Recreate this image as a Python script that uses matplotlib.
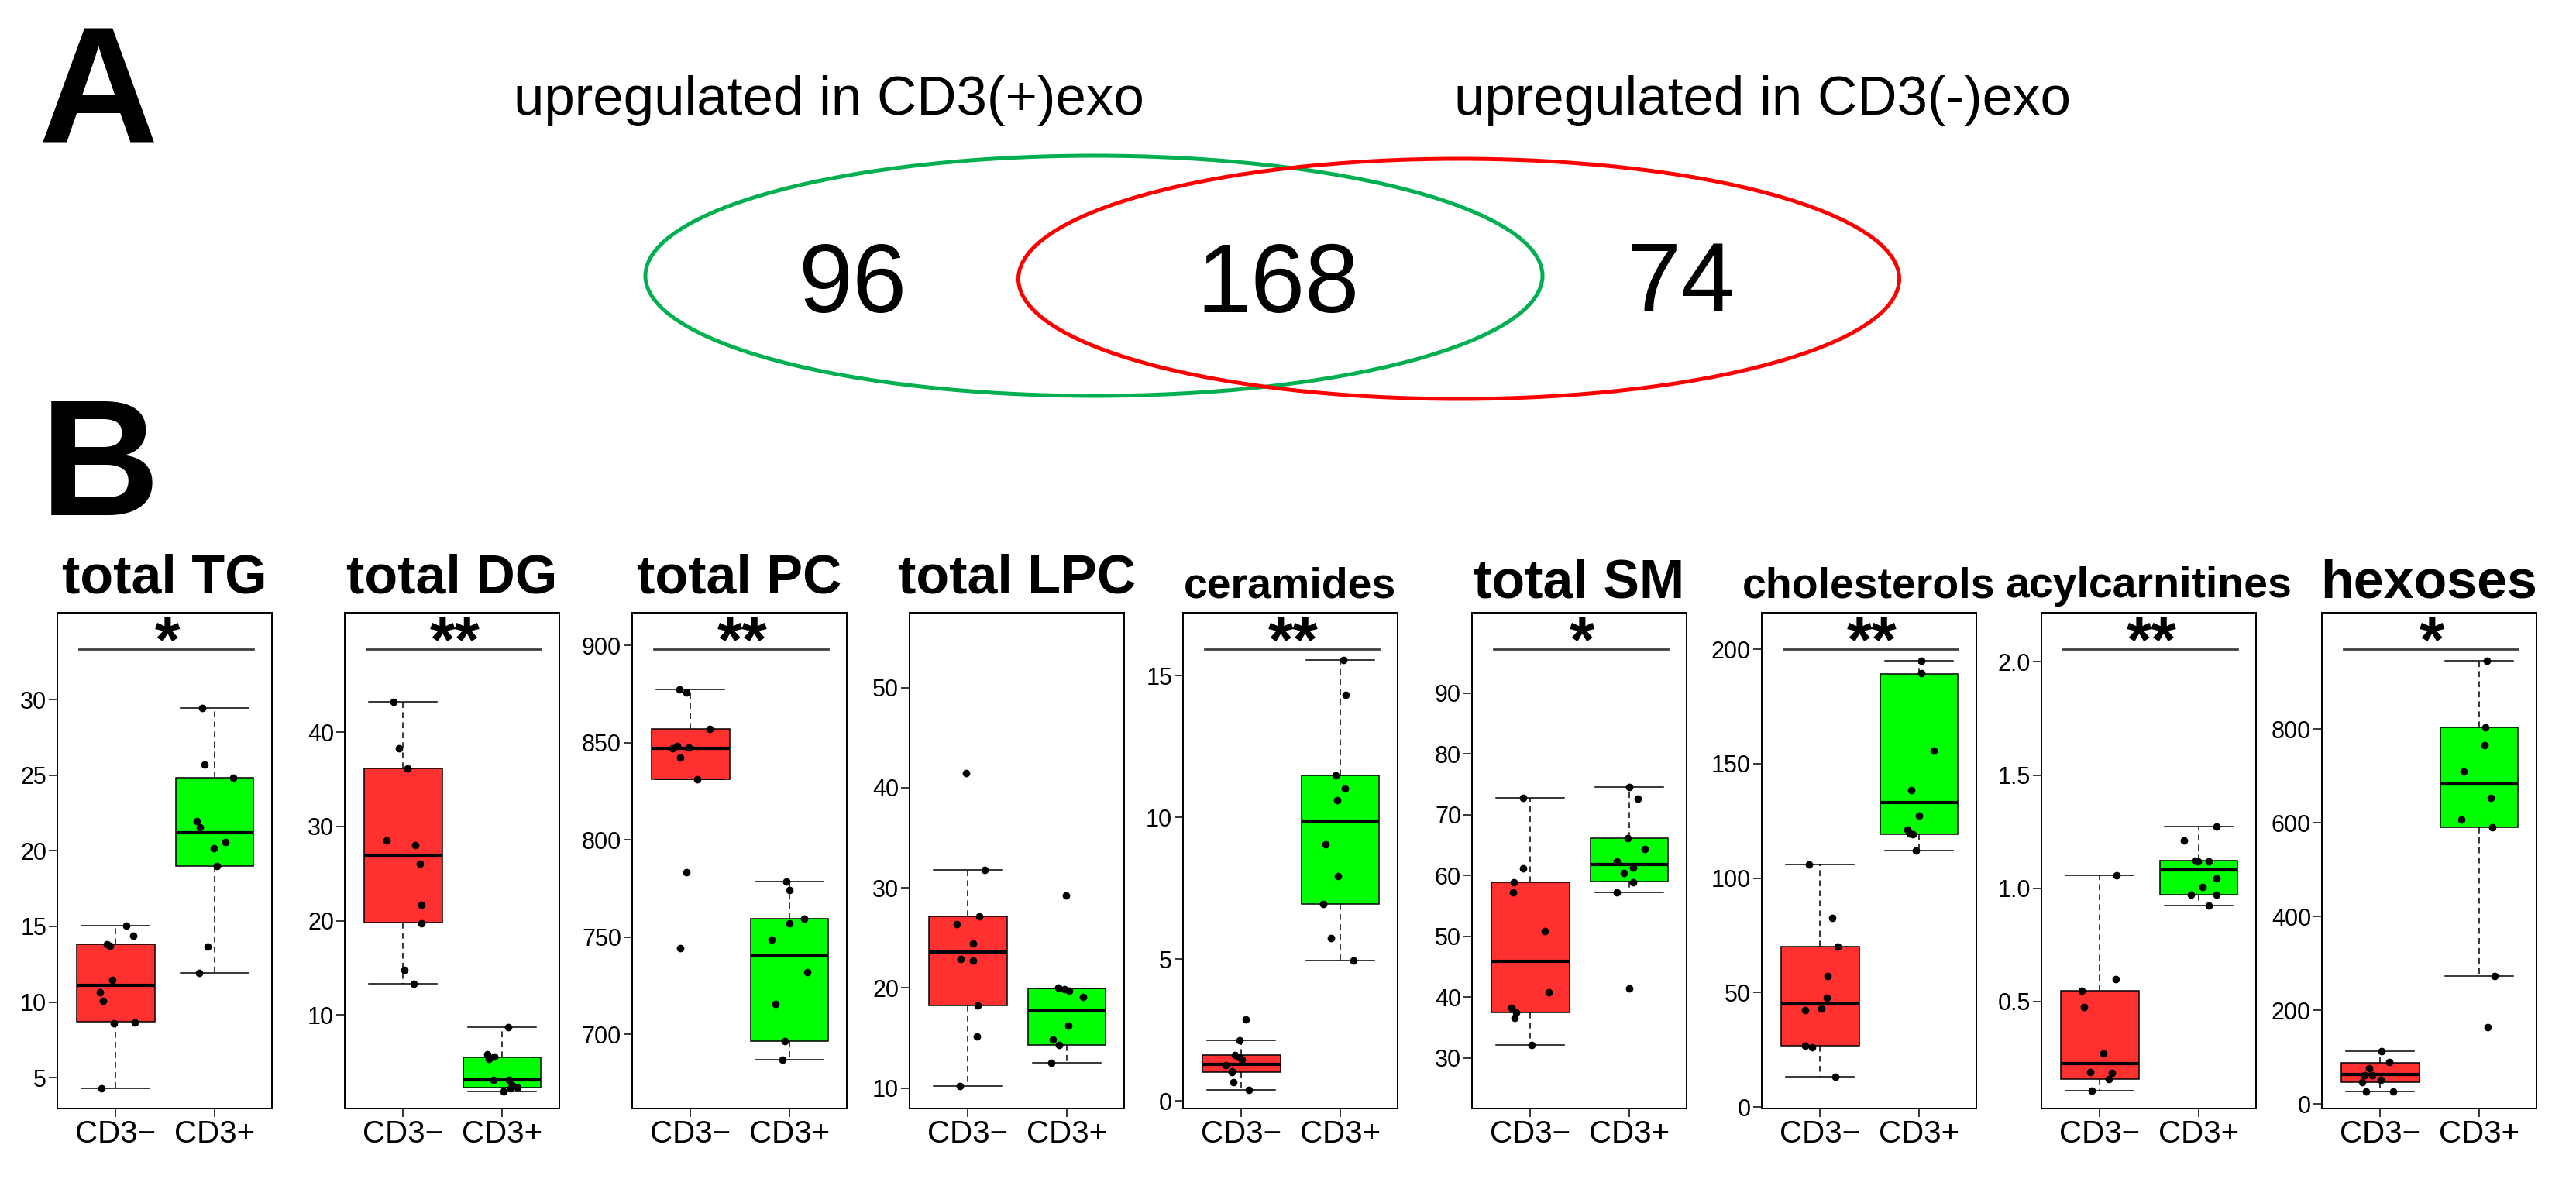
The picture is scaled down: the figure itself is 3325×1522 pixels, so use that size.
import numpy as np
import matplotlib
matplotlib.use('Agg')
import matplotlib.pyplot as plt
from matplotlib.patches import Ellipse
from matplotlib import font_manager

plt.rcParams['font.family'] = ['Liberation Sans', 'DejaVu Sans']

W, H = 3325, 1522

# ---- panel A: venn
venn_labels = ['upregulated in CD3(+)exo', 'upregulated in CD3(-)exo']
venn_counts = [96, 168, 74]

# ---- panel B: boxplots
titles = ['total TG', 'total DG', 'total PC', 'total LPC', 'ceramides',
          'total SM', 'cholesterols', 'acylcarnitines', 'hexoses']
groups = ['CD3\u2212', 'CD3+']
signif = ['*', '**', '**', '', '**', '*', '**', '**', '*']

ylims = [(2.96, 35.74), (0.06, 52.69), (661.9, 916.8), (7.96, 57.49), (-0.27, 17.22),
         (21.7, 103.2), (-0.6, 215.9), (0.027, 2.217), (-9.7, 1047.9)]
yticks = [[5, 10, 15, 20, 25, 30], [10, 20, 30, 40], [700, 750, 800, 850, 900],
          [10, 20, 30, 40, 50], [0, 5, 10, 15], [30, 40, 50, 60, 70, 80, 90],
          [0, 50, 100, 150, 200], [0.5, 1.0, 1.5, 2.0], [0, 200, 400, 600, 800]]

# individual samples (CD3- / CD3+)
neg_pts = [
    [15.07, 14.4, 13.8, 13.7, 11.46, 10.62, 10.1, 8.6, 8.64, 4.28],
    [43.23, 38.31, 36.14, 28.52, 28.04, 26.06, 21.72, 19.74, 14.82, 13.33],
    [877.3, 875.9, 857.0, 847.2, 848.4, 847.4, 842.3, 831.1, 783.4, 744.2],
    [41.48, 31.77, 27.14, 26.36, 24.41, 22.87, 22.73, 18.27, 15.18, 10.18],
    [2.88, 2.14, 1.62, 1.54, 1.45, 1.25, 1.05, 1.01, 0.66, 0.39],
    [72.77, 61.12, 58.88, 57.23, 50.9, 40.75, 38.2, 37.53, 36.55, 32.17],
    [106.1, 82.6, 70.2, 57.3, 47.8, 43.0, 42.4, 26.9, 26.1, 13.3],
    [1.058, 0.597, 0.548, 0.476, 0.270, 0.187, 0.183, 0.158, 0.106],
    [112.8, 89.4, 76.8, 61.2, 61.2, 51.5, 46.7, 27.2, 27.2],
]
pos_pts = [
    [29.43, 25.7, 24.83, 21.95, 21.56, 20.6, 20.17, 19.0, 13.68, 11.94],
    [8.70, 5.81, 5.33, 5.57, 3.10, 3.10, 2.52, 2.28, 2.23, 1.90],
    [778.7, 774.1, 757.2, 759.3, 748.6, 731.8, 715.7, 696.5, 686.9],
    [29.25, 20.04, 19.86, 19.73, 19.14, 16.23, 14.86, 14.32, 12.55],
    [15.54, 14.33, 11.47, 11.02, 10.62, 9.04, 7.94, 6.95, 5.73, 4.95],
    [74.6, 72.58, 66.18, 64.38, 62.36, 61.27, 60.37, 58.88, 57.23, 41.42],
    [194.8, 189.4, 155.8, 138.5, 127.3, 121.2, 119.4, 119.2, 112.2],
    [1.274, 1.211, 1.121, 1.117, 1.117, 1.042, 1.004, 0.972, 0.972, 0.922],
    [944.9, 803.9, 766.0, 709.6, 653.2, 606.6, 590.0, 273.1, 164.3],
]
# horizontal jitter of the dots
neg_jit = [
    [0.11, 0.18, -0.09, -0.056, -0.034, -0.157, -0.127, -0.015, 0.19, -0.146],
    [-0.093, -0.045, 0.045, -0.168, 0.123, 0.172, 0.183, 0.183, 0.011, 0.104],
    [-0.112, -0.045, 0.194, -0.179, -0.134, -0.022, -0.101, 0.071, -0.045, -0.101],
    [-0.015, 0.168, 0.112, -0.116, 0.052, -0.071, 0.052, 0.101, 0.090, -0.082],
    [0.045, -0.022, -0.063, -0.015, 0.004, -0.156, -0.093, -0.1, -0.078, 0.078],
    [-0.074, -0.074, -0.167, -0.178, 0.149, 0.186, -0.190, -0.141, -0.160, 0.011],
    [-0.116, 0.123, 0.179, 0.078, 0.067, 0.011, -0.149, -0.149, -0.082, 0.157],
    [0.167, 0.160, -0.182, -0.160, 0.033, -0.093, 0.123, 0.089, -0.082],
    [0.010, 0.089, -0.113, -0.157, -0.079, 0.008, -0.184, -0.147, 0.131],
]
pos_jit = [
    [-0.127, -0.10, 0.19, -0.18, -0.15, 0.11, -0.01, 0.026, -0.067, -0.157],
    [0.063, -0.149, -0.131, -0.075, -0.086, 0.067, 0.104, 0.160, 0.086, 0.019],
    [-0.034, 0.004, 0.004, 0.149, -0.179, 0.183, -0.142, -0.045, -0.067],
    [-0.011, -0.086, -0.022, 0.026, 0.168, 0.015, -0.138, -0.078, -0.157],
    [0.030, 0.056, -0.045, 0.045, -0.033, -0.145, -0.026, -0.171, -0.093, 0.134],
    [0.0, 0.089, -0.019, 0.160, -0.123, 0.037, -0.052, 0.037, -0.123, 0.0],
    [0.026, 0.026, 0.153, -0.078, 0.0, -0.116, -0.090, -0.063, -0.034],
    [0.178, -0.149, -0.037, -0.007, 0.100, 0.178, 0.037, -0.078, 0.178, 0.100],
    [0.079, 0.066, 0.055, -0.160, 0.121, -0.18, 0.134, 0.155, 0.089],
]
# box stats: lower whisker, q1, median, q3, upper whisker
neg_box = [
    [4.28, 8.70, 11.10, 13.80, 15.07],
    [13.33, 19.76, 26.96, 36.14, 43.23],
    [831.1, 831.1, 847.2, 857.0, 877.3],
    [10.18, 18.27, 23.6, 27.14, 31.77],
    [0.39, 1.01, 1.29, 1.62, 2.14],
    [32.17, 37.53, 45.88, 58.88, 72.77],
    [13.3, 26.9, 45.2, 70.2, 106.1],
    [0.104, 0.158, 0.226, 0.548, 1.058],
    [27.2, 46.7, 62.2, 88.5, 112.8],
]
pos_box = [
    [11.94, 19.0, 21.17, 24.83, 29.43],
    [1.90, 2.28, 3.10, 5.51, 8.70],
    [686.9, 696.5, 740.2, 759.3, 778.7],
    [12.55, 14.32, 17.68, 19.95, 19.95],
    [4.95, 6.95, 9.86, 11.47, 15.54],
    [57.23, 58.95, 61.8, 66.18, 74.6],
    [112.2, 119.2, 133.1, 189.2, 194.8],
    [0.922, 0.972, 1.081, 1.121, 1.274],
    [273.1, 590.0, 682.4, 802.9, 944.9],
]

have = {f.name for f in font_manager.fontManager.ttflist}
narrow = 'Liberation Sans Narrow' in have
if narrow:
    tickfont, xls, yls = ['Liberation Sans Narrow', 'DejaVu Sans'], 32, 23
else:
    tickfont, xls, yls = ['Liberation Sans', 'DejaVu Sans'], 29, 22

fig = plt.figure(figsize=(W / 100, H / 100), dpi=100)
bg = fig.add_axes([0, 0, 1, 1])
bg.set_xlim(0, W)
bg.set_ylim(H, 0)
bg.axis('off')

# panel letters
bg.text(50, 185, 'A', fontsize=154, fontweight='bold', ha='left', va='baseline')
bg.text(52, 665, 'B', fontsize=154, fontweight='bold', ha='left', va='baseline')

# venn
bg.add_patch(Ellipse((1412, 356), 1158, 310, fill=False, ec='#00B050', lw=3.6))
bg.add_patch(Ellipse((1883, 360), 1137, 310, fill=False, ec='#FF0000', lw=3.6))
for x, n in zip([1100, 1650, 2170], venn_counts):
    bg.text(x, 403, str(n), fontsize=90.7, ha='center', va='baseline')
bg.text(663, 148, venn_labels[0], fontsize=51, ha='left', va='baseline')
bg.text(1877, 148, venn_labels[1], fontsize=51, ha='left', va='baseline')

lefts = [74, 445, 816, 1174, 1527, 1900, 2274, 2635, 2997]
title_y = [765, 765, 765, 765, 771, 771, 771, 771, 771]
squeeze = [False, False, False, False, True, False, True, True, False]
box_w, top, bottom = 277, 791, 1431
red, green = '#FF3030', '#00FF00'

for i in range(9):
    ax = fig.add_axes([lefts[i] / W, 1 - bottom / H, box_w / W, (bottom - top) / H])
    stats = []
    for b in (neg_box[i], pos_box[i]):
        stats.append(dict(whislo=b[0], q1=b[1], med=b[2], q3=b[3], whishi=b[4], fliers=[]))
    bp = ax.bxp(stats, positions=[1, 2], widths=0.79, capwidths=0.69,
                patch_artist=True, showfliers=False,
                boxprops=dict(linewidth=1.1, edgecolor='black'),
                whiskerprops=dict(linewidth=1.1, linestyle=(0, (5, 3.5))),
                capprops=dict(linewidth=1.1),
                medianprops=dict(color='black', linewidth=3))
    for patch, col in zip(bp['boxes'], [red, green]):
        patch.set_facecolor(col)

    ax.plot(1 + np.array(neg_jit[i]), neg_pts[i], 'o', color='black', ms=6, zorder=5)
    ax.plot(2 + np.array(pos_jit[i]), pos_pts[i], 'o', color='black', ms=6, zorder=5)

    if signif[i]:
        tr = ax.get_xaxis_transform()
        ax.plot([0.63, 2.39], [0.927, 0.927], color='#404040', lw=2, transform=tr)
        ax.text(1.52, 0.9, signif[i], transform=tr, ha='center', va='baseline',
                fontsize=60, fontweight='bold')

    ax.set_xlim(0.41, 2.58)
    ax.set_ylim(*ylims[i])
    ax.set_xticks([1, 2])
    ax.set_xticklabels(groups, fontfamily=tickfont, fontsize=xls)
    ax.set_yticks(yticks[i])
    ax.set_yticklabels([str(v) for v in yticks[i]], fontfamily=tickfont, fontsize=yls)
    ax.tick_params(length=8, width=1.1, pad=2)
    for s in ax.spines.values():
        s.set_linewidth(1.4)

    if squeeze[i] and narrow:
        tf, ts = ['Liberation Sans Narrow', 'DejaVu Sans'], 50.4
    elif squeeze[i]:
        tf, ts = ['Liberation Sans', 'DejaVu Sans'], 40
    else:
        tf, ts = ['Liberation Sans', 'DejaVu Sans'], 50.4
    bg.text(lefts[i] + box_w / 2, title_y[i], titles[i], fontsize=ts, fontweight='bold',
            fontfamily=tf, ha='center', va='baseline')

fig.savefig('out.png', dpi=100)
